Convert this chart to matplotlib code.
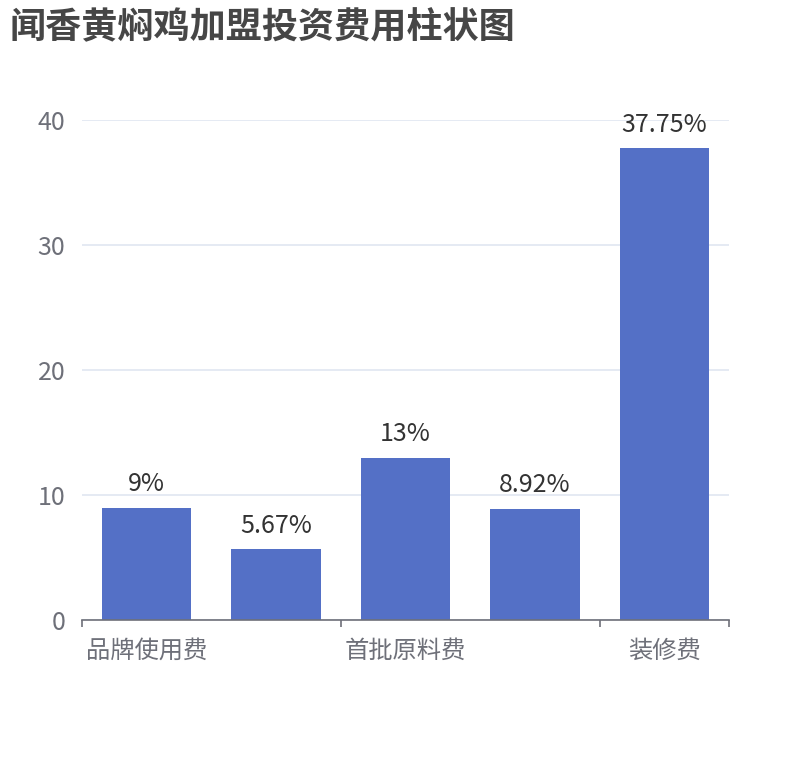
import matplotlib
matplotlib.use("Agg")
import matplotlib.pyplot as plt
import numpy as np

plt.rcParams['font.family'] = ['Noto Sans CJK SC', 'DejaVu Sans']

# --- 数据 ---
title = "闻香黄焖鸡加盟投资费用柱状图"
categories = ["品牌使用费", "", "首批原料费", "", "装修费"]  # 第2、4个标签在原图中被隐藏
values = [9, 5.67, 13, 8.92, 37.75]
value_labels = ["9%", "5.67%", "13%", "8.92%", "37.75%"]
y_ticks = [0, 10, 20, 30, 40]

bar_color = "#5470C6"
axis_color = "#6E7079"
grid_color = "#E0E6F1"

fig = plt.figure(figsize=(8.1, 7.6), dpi=100)
ax = fig.add_axes([82 / 810, 140 / 760, (729 - 82) / 810, 500 / 760])

x = np.arange(len(categories))
bars = ax.bar(x, values, width=0.69, color=bar_color, zorder=3)

for rect, lab in zip(bars, value_labels):
    ax.annotate(lab, (rect.get_x() + rect.get_width() / 2, rect.get_height()),
                xytext=(0, 7.5), textcoords="offset points",
                ha="center", va="bottom", fontsize=18, color="#333333")

ax.set_xlim(-0.5, len(categories) - 0.5)
ax.set_ylim(0, 40)
ax.set_yticks(y_ticks)
ax.yaxis.grid(True, color=grid_color, linewidth=1.2, zorder=0)
ax.tick_params(axis="y", length=0, pad=12, labelsize=18, labelcolor=axis_color)

# 类目轴: 刻度线在边界上, 标签隔一个显示
ax.set_xticks([-0.5, 1.5, 3.5, 4.5])
ax.set_xticklabels([])
ax.tick_params(axis="x", which="major", length=5, width=1.2, color=axis_color)
shown = [i for i, c in enumerate(categories) if c]
ax.set_xticks(shown, minor=True)
ax.set_xticklabels([categories[i] for i in shown], minor=True)
ax.tick_params(axis="x", which="minor", length=0, pad=13, labelsize=17.5, labelcolor=axis_color)

for side in ["top", "right", "left"]:
    ax.spines[side].set_visible(False)
ax.spines["bottom"].set_color(axis_color)
ax.spines["bottom"].set_linewidth(1.2)
ax.spines["bottom"].set_zorder(4)

fig.text(10 / 810, 1 - 28 / 760, title, ha="left", va="center",
         fontsize=26, fontweight="bold", color="#464646")

fig.savefig("out.png", dpi=100)
